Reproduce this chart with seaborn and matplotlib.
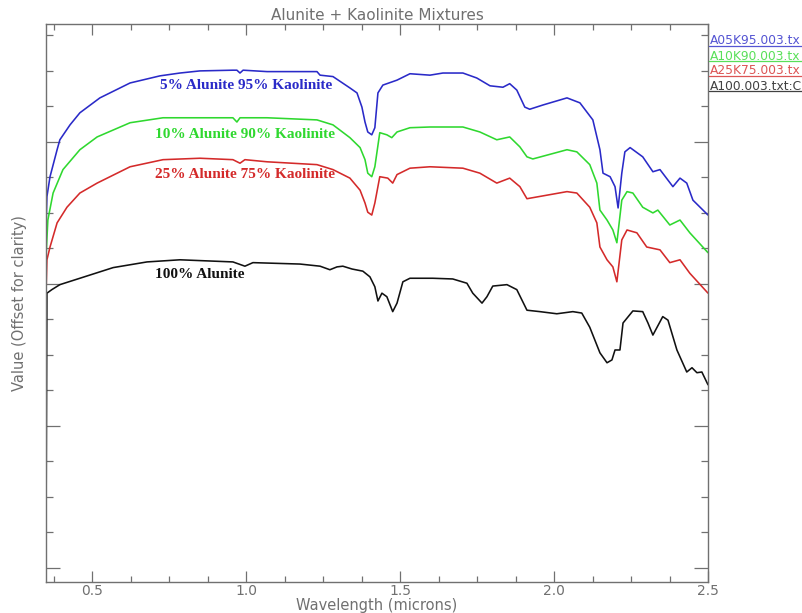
import numpy as np
import pandas as pd
import matplotlib
matplotlib.use("Agg")
import matplotlib.pyplot as plt
from matplotlib.lines import Line2D
from matplotlib.ticker import MultipleLocator, NullFormatter
import seaborn as sns

# spectra (wavelength in microns, offset reflectance)
wl_a05 = [0.350, 0.353, 0.363, 0.386, 0.395, 0.428, 0.460, 0.525, 0.623, 0.720, 0.785, 0.850,
          0.957, 0.970, 0.980, 0.990, 1.068, 1.230, 1.240, 1.282, 1.337, 1.360, 1.376, 1.386,
          1.395, 1.408, 1.418, 1.428, 1.444, 1.490, 1.532, 1.597, 1.639, 1.704, 1.749, 1.792,
          1.834, 1.856, 1.879, 1.905, 1.921, 1.964, 2.042, 2.084, 2.126, 2.149, 2.159, 2.182,
          2.198, 2.208, 2.220, 2.230, 2.247, 2.288, 2.321, 2.344, 2.386, 2.409, 2.431, 2.451, 2.500]
val_a05 = [0.480, 0.523, 0.551, 0.589, 0.603, 0.624, 0.641, 0.662, 0.683, 0.693, 0.697, 0.700,
           0.701, 0.701, 0.697, 0.701, 0.699, 0.699, 0.694, 0.692, 0.676, 0.669, 0.649, 0.628,
           0.614, 0.610, 0.620, 0.669, 0.680, 0.687, 0.696, 0.694, 0.697, 0.697, 0.690, 0.679,
           0.677, 0.682, 0.673, 0.649, 0.646, 0.652, 0.662, 0.655, 0.631, 0.589, 0.556, 0.551,
           0.537, 0.507, 0.556, 0.586, 0.592, 0.579, 0.558, 0.561, 0.537, 0.549, 0.542, 0.518, 0.497]

wl_a10 = [0.350, 0.356, 0.373, 0.405, 0.460, 0.516, 0.623, 0.730, 0.850, 0.957, 0.970, 0.980,
          1.068, 1.230, 1.282, 1.337, 1.370, 1.386, 1.395, 1.408, 1.418, 1.434, 1.457, 1.473,
          1.490, 1.532, 1.597, 1.704, 1.759, 1.814, 1.856, 1.889, 1.912, 1.931, 2.042, 2.074,
          2.116, 2.139, 2.149, 2.172, 2.191, 2.204, 2.220, 2.237, 2.256, 2.288, 2.321, 2.337,
          2.376, 2.409, 2.441, 2.500]
val_a10 = [0.438, 0.490, 0.528, 0.561, 0.589, 0.607, 0.627, 0.634, 0.634, 0.634, 0.628, 0.634,
           0.634, 0.631, 0.624, 0.606, 0.592, 0.575, 0.556, 0.551, 0.565, 0.613, 0.610, 0.606,
           0.614, 0.620, 0.621, 0.621, 0.614, 0.603, 0.607, 0.593, 0.579, 0.576, 0.589, 0.586,
           0.568, 0.542, 0.504, 0.490, 0.476, 0.458, 0.518, 0.530, 0.528, 0.508, 0.500, 0.504,
           0.483, 0.490, 0.472, 0.444]

wl_a25 = [0.350, 0.353, 0.363, 0.386, 0.418, 0.460, 0.516, 0.623, 0.730, 0.850, 0.957, 0.980,
          0.996, 1.068, 1.230, 1.282, 1.337, 1.370, 1.386, 1.395, 1.408, 1.418, 1.434, 1.460,
          1.476, 1.490, 1.532, 1.597, 1.704, 1.759, 1.814, 1.856, 1.889, 1.912, 2.042, 2.074,
          2.116, 2.139, 2.149, 2.172, 2.191, 2.204, 2.220, 2.237, 2.269, 2.301, 2.344, 2.376,
          2.409, 2.441, 2.500]
val_a25 = [0.387, 0.434, 0.452, 0.486, 0.508, 0.528, 0.542, 0.565, 0.575, 0.577, 0.575, 0.570,
           0.575, 0.572, 0.568, 0.561, 0.549, 0.532, 0.514, 0.501, 0.497, 0.514, 0.551, 0.549,
           0.542, 0.554, 0.563, 0.565, 0.563, 0.556, 0.542, 0.549, 0.537, 0.520, 0.530, 0.528,
           0.508, 0.486, 0.452, 0.434, 0.424, 0.403, 0.462, 0.476, 0.472, 0.452, 0.448, 0.430,
           0.434, 0.415, 0.387]

wl_a100 = [0.350, 0.353, 0.369, 0.395, 0.460, 0.568, 0.678, 0.785, 0.957, 0.996, 1.022, 1.175,
           1.240, 1.272, 1.295, 1.314, 1.344, 1.379, 1.402, 1.418, 1.428, 1.441, 1.457, 1.476,
           1.490, 1.509, 1.532, 1.606, 1.671, 1.717, 1.736, 1.766, 1.782, 1.801, 1.847, 1.879,
           1.912, 1.954, 2.009, 2.061, 2.090, 2.116, 2.149, 2.172, 2.188, 2.198, 2.214, 2.224,
           2.256, 2.288, 2.305, 2.321, 2.353, 2.370, 2.399, 2.431, 2.448, 2.464, 2.480, 2.500]
val_a100 = [0.044, 0.387, 0.392, 0.399, 0.408, 0.423, 0.431, 0.434, 0.431, 0.425, 0.430, 0.428,
            0.425, 0.420, 0.424, 0.425, 0.421, 0.418, 0.410, 0.396, 0.376, 0.387, 0.382, 0.361,
            0.373, 0.403, 0.408, 0.408, 0.407, 0.401, 0.387, 0.373, 0.382, 0.397, 0.399, 0.392,
            0.363, 0.361, 0.358, 0.361, 0.359, 0.339, 0.303, 0.289, 0.293, 0.307, 0.307, 0.345,
            0.362, 0.361, 0.345, 0.328, 0.354, 0.349, 0.307, 0.276, 0.282, 0.275, 0.276, 0.258]

# file names as far as they are visible at the right edge of the reference
file_names = ["A05K95.003.tx", "A10K90.003.tx", "A25K75.003.tx", "A100.003.txt:C"]
mix_labels = ["5% Alunite 95% Kaolinite", "10% Alunite 90% Kaolinite",
              "25% Alunite 75% Kaolinite", "100% Alunite"]
label_pos = [(0.720, 0.679), (0.704, 0.611), (0.704, 0.554), (0.704, 0.413)]
colors = ["#2a2ac8", "#2fd82f", "#d42a2a", "#111111"]

spectra = [(wl_a05, val_a05), (wl_a10, val_a10), (wl_a25, val_a25), (wl_a100, val_a100)]

sns.set_style("ticks")
plt.rcParams["font.family"] = ["DejaVu Sans"]
grey = "#707070"

fig = plt.figure(figsize=(8.03, 6.13), dpi=100)
ax = fig.add_axes([0.0573, 0.0506, 0.8244, 0.9102])

for (wl, val), col in zip(spectra, colors):
    df = pd.DataFrame({"wavelength": wl, "value": val})
    sns.lineplot(data=df, x="wavelength", y="value", color=col, linewidth=1.15,
                 estimator=None, sort=False, ax=ax)

for text, (x, y), col in zip(mix_labels, label_pos, colors):
    ax.text(x, y, text, color=col, fontsize=11, fontweight="bold",
            family="Liberation Serif", va="center", ha="left")

ax.set_xlim(0.35, 2.5)
ax.set_ylim(-0.0197, 0.766)
ax.xaxis.set_major_locator(MultipleLocator(0.5))
ax.xaxis.set_minor_locator(MultipleLocator(0.125))
ax.yaxis.set_major_locator(MultipleLocator(0.2))
ax.yaxis.set_minor_locator(MultipleLocator(0.05))
ax.yaxis.set_major_formatter(NullFormatter())
ax.set_xticks([0.5, 1.0, 1.5, 2.0, 2.5])
ax.set_xticklabels(["0.5", "1.0", "1.5", "2.0", "2.5"])

ax.tick_params(axis="both", which="both", direction="in", top=True, right=True,
               color=grey, width=0.9, labelcolor=grey, labelsize=10)
ax.tick_params(axis="x", which="major", length=8, pad=1.5)
ax.tick_params(axis="x", which="minor", length=4.5)
ax.tick_params(axis="y", which="major", length=10)
ax.tick_params(axis="y", which="minor", length=5)
for sp in ax.spines.values():
    sp.set_color(grey)
    sp.set_linewidth(1.0)

ax.set_xlabel("Wavelength (microns)", color=grey, fontsize=10.5, labelpad=0)
ax.set_ylabel("Value (Offset for clarity)", color=grey, fontsize=10.5, labelpad=10)
ax.set_title("Alunite + Kaolinite Mixtures", color=grey, fontsize=11, pad=3)

# file legend outside the plot, text with a coloured underline
for i, (name, col) in enumerate(zip(file_names, colors)):
    ty = 1 - (41 + 15 * i) / 613
    ly = 1 - (46 + 15 * i) / 613
    fig.text(710 / 803, ty, name, color=col, fontsize=8.8, va="center", ha="left", alpha=0.8)
    fig.add_artist(Line2D([709 / 803, 1.0], [ly, ly], color=col, linewidth=0.9,
                          transform=fig.transFigure, alpha=0.8))

fig.savefig("out.png", dpi=100)
